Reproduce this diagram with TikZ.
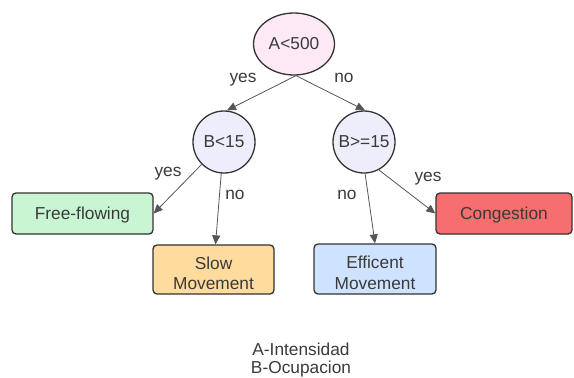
\documentclass[tikz,border=0pt]{standalone}
\usepackage{fontspec}
\setmainfont{Liberation Sans}
\usetikzlibrary{arrows.meta,shapes.geometric}
\definecolor{txt}{HTML}{3A3A3A}
\definecolor{edge}{HTML}{333333}
\definecolor{arr}{HTML}{555555}
\definecolor{rootfill}{HTML}{FDE9F5}
\definecolor{circfill}{HTML}{EDEDFB}
\definecolor{greenfill}{HTML}{C9F5D3}
\definecolor{orangefill}{HTML}{FFDB9E}
\definecolor{bluefill}{HTML}{CEE3FF}
\definecolor{redfill}{HTML}{F66E6E}
\tikzset{
  every node/.style={font=\fontsize{17.3}{20.5}\selectfont, text=txt},
  decision/.style={circle, draw=edge, line width=1.3pt, fill=circfill, minimum size=62pt, inner sep=0pt},
  rootnode/.style={ellipse, draw=edge, line width=1.3pt, fill=rootfill, minimum width=81pt, minimum height=62pt, inner sep=0pt},
  leaf/.style={rectangle, rounded corners=4pt, draw=edge, line width=1.3pt, inner sep=0pt},
  capcenter/.style={text height=12.4pt, text depth=0pt},
  conn/.style={draw=arr, line width=0.8pt, -{Triangle[length=9pt,width=8pt]}},
  lbl/.style={anchor=base, inner sep=0pt},
}
\begin{document}
\begin{tikzpicture}[x=1pt,y=-1pt]
\useasboundingbox (0,0) rectangle (574,378);
\node[rootnode] (root) at (294,44) {A<500};
\node[decision] (b1) at (224,142) {B<15};
\node[decision] (b2) at (364,142) {B>=15};
\node[leaf, capcenter, fill=greenfill, minimum width=141pt, minimum height=41pt] (ff) at (82.5,213.5) {Free-flowing};
\node[leaf, fill=orangefill, minimum width=121pt, minimum height=49pt] (slow) at (213.5,269.5) {};
\node[align=center, inner sep=0pt] (slowt) at ([yshift=-4pt]slow.center) {Slow\\Movement};
\node[leaf, fill=bluefill, minimum width=122pt, minimum height=50pt] (eff) at (375,269) {};
\node[align=center, inner sep=0pt] (efft) at ([yshift=-4pt]eff.center) {Efficent\\Movement};
\node[leaf, capcenter, fill=redfill, minimum width=136pt, minimum height=41pt] (cong) at (504,213.5) {Congestion};

\draw[conn] ([xshift=2pt]root.south) -- ([xshift=3pt]b1.north);
\draw[conn] ([xshift=2pt]root.south) -- ([xshift=1pt]b2.north);
\draw[conn] (b1.-135) -- (ff.east);
\draw[conn] (b1.-95) -- ([xshift=2pt]slow.north);
\draw[conn] (b2.-88) -- (eff.north);
\draw[conn] (b2.-62) -- (cong.west);

\node[lbl] (l1) at (243,82) {yes};
\node[lbl] (l2) at (344,82) {no};
\node[lbl] (l3) at (168,176) {yes};
\node[lbl] (l4) at (235,199) {no};
\node[lbl] (l5) at (347,199) {no};
\node[lbl] (l6) at (428,181) {yes};

\node[lbl] (legA) at (301,355) {A-Intensidad};
\node[lbl] (legB) at (301,373) {B-Ocupacion};
\end{tikzpicture}
\end{document}
